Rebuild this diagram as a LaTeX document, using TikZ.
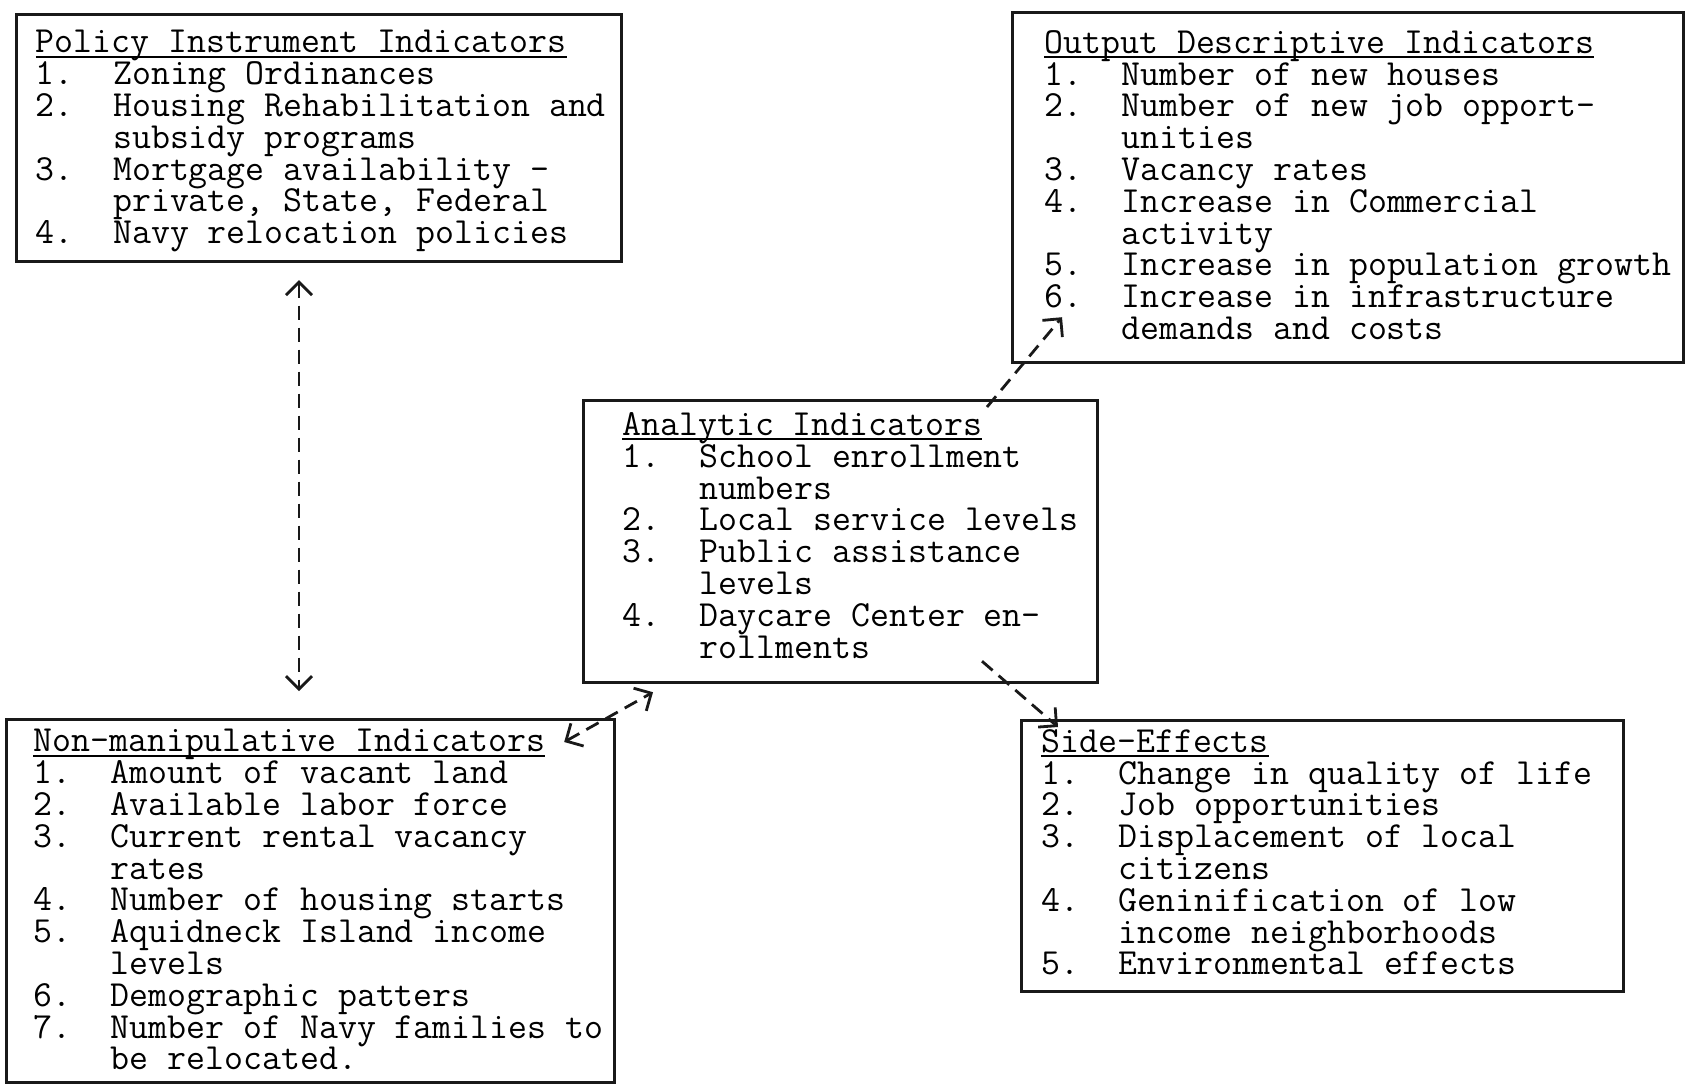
\documentclass[tikz,border=0pt]{standalone}
\usepackage{tikz}
\usetikzlibrary{calc,arrows.meta}

\newcommand{\tw}{\ttfamily\fontsize{18.4}{15.9}\selectfont}
\newcommand{\itm}[2]{\makebox[2.1em][l]{#1}#2}
\newcommand{\cont}[1]{\hspace*{2.1em}#1}
\newcommand{\ttl}[1]{\setbox0=\hbox{#1}\rlap{\rule[-2.5pt]{\wd0}{1pt}}\box0}

\tikzset{
  box/.style={draw=black!90,line width=1.6pt,anchor=north west,inner sep=0pt},
  txt/.style={anchor=north west,align=left,inner sep=0pt,font=\tw,text=black},
  link/.style={draw=black!90,line width=1.4pt,dash pattern=on 7pt off 4pt,
    >={Straight Barb[length=6.5pt,width=13pt]}},
}

\begin{document}
\begin{tikzpicture}[x=0.5pt,y=-0.5pt]
\fill[white] (0,0) rectangle (1687,1083);
\useasboundingbox (0,0) rectangle (1687,1083);

% frames
\node[box,minimum width=302.5pt,minimum height=123.5pt] (policy) at (15,13) {};
\node[box,minimum width=335.5pt,minimum height=175pt] (output) at (1011,11) {};
\node[box,minimum width=257pt,minimum height=141pt] (analytic) at (582,399) {};
\node[box,minimum width=304pt,minimum height=181.5pt] (nonmanip) at (5,718) {};
\node[box,minimum width=301pt,minimum height=135.5pt] (side) at (1020,719) {};

% lists
\node[txt] (policytxt) at (35.5,30) {\ttl{Policy Instrument Indicators}\\
  \itm{1.}{Zoning Ordinances}\\
  \itm{2.}{Housing Rehabilitation and}\\
  \cont{subsidy programs}\\
  \itm{3.}{Mortgage availability -}\\
  \cont{private, State, Federal}\\
  \itm{4.}{Navy relocation policies}};
\node[txt] (outputtxt) at (1044,30) {\ttl{Output Descriptive Indicators}\\
  \itm{1.}{Number of new houses}\\
  \itm{2.}{Number of new job opport-}\\
  \cont{unities}\\
  \itm{3.}{Vacancy rates}\\
  \itm{4.}{Increase in Commercial}\\
  \cont{activity}\\
  \itm{5.}{Increase in population growth}\\
  \itm{6.}{Increase in infrastructure}\\
  \cont{demands and costs}};
\node[txt] (analytictxt) at (622,412) {\ttl{Analytic Indicators}\\
  \itm{1.}{School enrollment}\\
  \cont{numbers}\\
  \itm{2.}{Local service levels}\\
  \itm{3.}{Public assistance}\\
  \cont{levels}\\
  \itm{4.}{Daycare Center en-}\\
  \cont{rollments}};
\node[txt] (nonmaniptxt) at (33,729) {\ttl{Non-manipulative Indicators}\\
  \itm{1.}{Amount of vacant land}\\
  \itm{2.}{Available labor force}\\
  \itm{3.}{Current rental vacancy}\\
  \cont{rates}\\
  \itm{4.}{Number of housing starts}\\
  \itm{5.}{Aquidneck Island income}\\
  \cont{levels}\\
  \itm{6.}{Demographic patters}\\
  \itm{7.}{Number of Navy families to}\\
  \cont{be relocated.}};
\node[txt] (sidetxt) at (1041,729) {\ttl{Side-Effects}\\
  \itm{1.}{Change in quality of life}\\
  \itm{2.}{Job opportunities}\\
  \itm{3.}{Displacement of local}\\
  \cont{citizens}\\
  \itm{4.}{Geninification of low}\\
  \cont{income neighborhoods}\\
  \itm{5.}{Environmental effects}};

% dashed links
\coordinate (axis) at (299,0);
\draw[link,<->,shorten <=8.5pt,shorten >=13.5pt] (policy.south -| axis) -- (nonmanip.north -| axis);
\draw[link,<->] ($(nonmanip.north east)+(-52,24)$) -- ($(analytic.south west)+(71,8)$);
\draw[link,->] ($(analytic.north west)+(405,8)$) -- ($(output.south west)+(51,-47)$);
\draw[link,->] ($(analytic.south west)+(400,-23)$) -- ($(side.north west)+(38,8)$);
\end{tikzpicture}
\end{document}
